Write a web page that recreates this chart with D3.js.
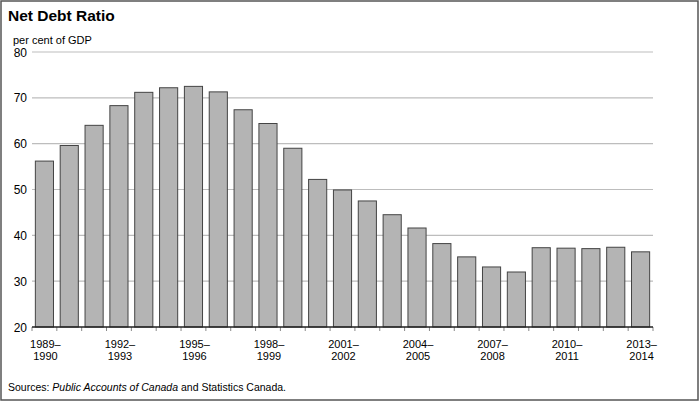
<!DOCTYPE html>
<html><head><meta charset="utf-8">
<script src="https://cdn.jsdelivr.net/npm/d3@7"></script>
<style>body{margin:0;background:#fff}svg{display:block;font-family:"Liberation Sans",Arial,sans-serif}</style>
</head><body><svg id="c" width="700" height="402"></svg>
<script>
const categories = ["1989–1990","1990–1991","1991–1992","1992–1993","1993–1994","1994–1995","1995–1996","1996–1997","1997–1998","1998–1999","1999–2000","2000–2001","2001–2002","2002–2003","2003–2004","2004–2005","2005–2006","2006–2007","2007–2008","2008–2009","2009–2010","2010–2011","2011–2012","2012–2013","2013–2014"];
const values = [56.2,59.6,64.0,68.3,71.2,72.2,72.5,71.3,67.4,64.4,59.0,52.2,49.9,47.5,44.5,41.6,38.2,35.3,33.1,32.0,37.3,37.2,37.1,37.4,36.4];
const yTicks = [20,30,40,50,60,70,80];
const labelEvery = 3;

const svg = d3.select("#c");
const m = {l:32, r:653, t:52, b:327};
const x = d3.scaleBand().domain(categories).range([m.l, m.r]).paddingInner(0.27).paddingOuter(0.135);
const xb = d3.scaleBand().domain(categories).range([m.l, m.r]);
const y = d3.scaleLinear().domain([20,80]).range([m.b, m.t]);

svg.append("rect").attr("x",1).attr("y",1).attr("width",697).attr("height",399)
  .attr("fill","#fff").attr("stroke","#555").attr("stroke-width",1.5);

svg.append("text").attr("x",8).attr("y",21).attr("font-size",15.5).attr("font-weight","bold").attr("fill","#000").text("Net Debt Ratio");
svg.append("text").attr("x",13).attr("y",44).attr("font-size",11).attr("fill","#000").text("per cent of GDP");

// gridlines
svg.append("g").selectAll("line").data(yTicks.filter(d=>d!==20)).join("line")
  .attr("x1",m.l).attr("x2",m.r).attr("y1",d=>y(d)).attr("y2",d=>y(d))
  .attr("stroke","#bdbdbd").attr("stroke-width",1.2);

// y labels
svg.append("g").selectAll("text").data(yTicks).join("text")
  .attr("x",27).attr("y",d=>y(d)+4.5).attr("text-anchor","end").attr("font-size",12).attr("fill","#000").text(d=>d);

// bars
svg.append("g").selectAll("rect").data(values).join("rect")
  .attr("x",(d,i)=>x(categories[i])).attr("width",x.bandwidth())
  .attr("y",d=>y(d)).attr("height",d=>y(20)-y(d))
  .attr("fill","#b4b4b4").attr("stroke","#444").attr("stroke-width",1);

// ticks
svg.append("g").selectAll("line").data(categories.concat(["end"])).join("line")
  .attr("x1",(d,i)=>i<categories.length?xb(d):m.r).attr("x2",(d,i)=>i<categories.length?xb(d):m.r)
  .attr("y1",m.b).attr("y2",m.b+4).attr("stroke","#888").attr("stroke-width",1);

// axis line
svg.append("line").attr("x1",m.l).attr("x2",m.r).attr("y1",m.b).attr("y2",m.b).attr("stroke","#222").attr("stroke-width",1.6);

// x labels
const lab = svg.append("g").selectAll("text").data(categories.filter((d,i)=>i%labelEvery===0)).join("text")
  .attr("x",d=>xb(d)+xb.bandwidth()/2+1).attr("y",348).attr("text-anchor","middle").attr("font-size",11).attr("fill","#000");
lab.append("tspan").text(d=>d.split("–")[0]+"–");
lab.append("tspan").attr("x",d=>xb(d)+xb.bandwidth()/2+1).attr("dy",12).text(d=>d.split("–")[1]);

const src = svg.append("text").attr("x",8).attr("y",391).attr("font-size",10.5).attr("fill","#000");
src.append("tspan").text("Sources: ");
src.append("tspan").attr("font-style","italic").text("Public Accounts of Canada");
src.append("tspan").text(" and Statistics Canada.");
</script></body></html>
